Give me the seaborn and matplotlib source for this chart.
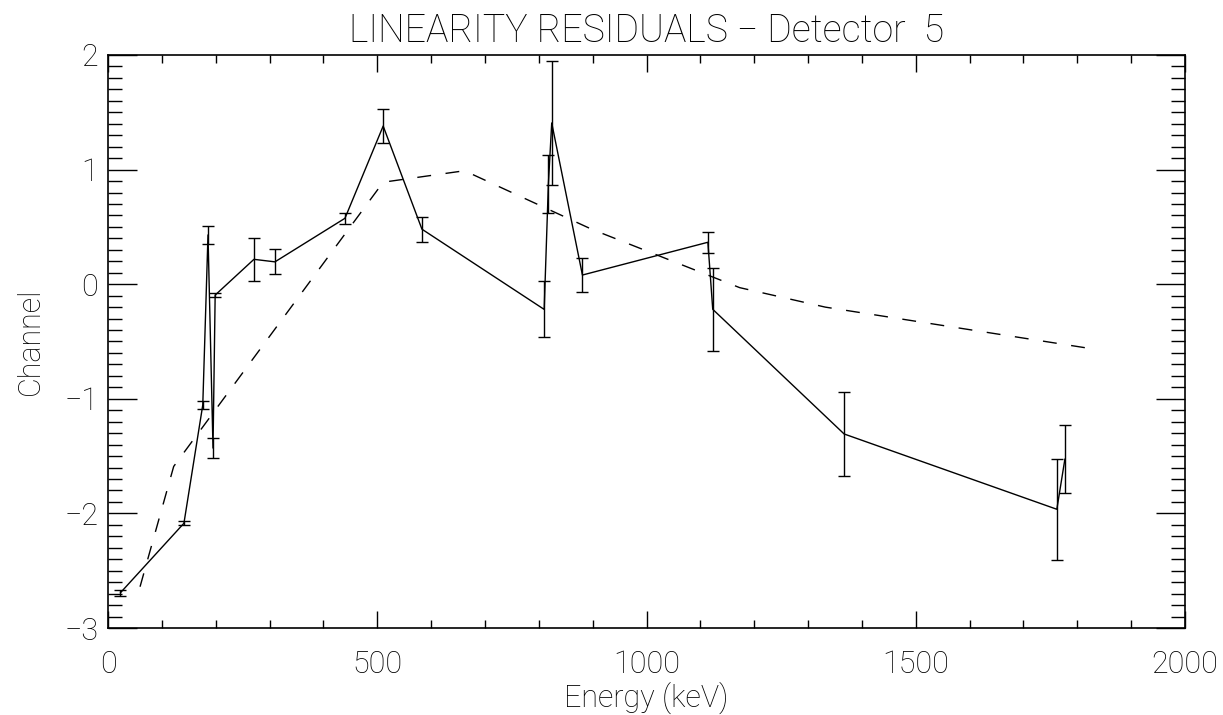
import matplotlib
matplotlib.use("Agg")
import matplotlib.pyplot as plt
from matplotlib.ticker import MultipleLocator
import seaborn as sns
import pandas as pd

# Measured residuals per calibration line
energy_kev = [23, 141, 176, 185.7, 195, 199, 271, 310, 440, 511, 583,
              810, 817.8, 824, 881, 1114, 1123, 1367, 1762, 1777]
residual = [-2.693, -2.086, -1.054, 0.43, -1.43, -0.095, 0.217, 0.195, 0.575, 1.38, 0.48,
            -0.22, 0.875, 1.407, 0.08, 0.366, -0.219, -1.307, -1.964, -1.525]
residual_err = [0.025, 0.016, 0.035, 0.08, 0.085, 0.015, 0.19, 0.11, 0.05, 0.15, 0.11,
                0.245, 0.255, 0.54, 0.147, 0.09, 0.36, 0.37, 0.44, 0.3]

# Fitted curve
fit_energy = [59.5, 122, 511, 662, 898, 1173, 1332, 1836]
fit_value = [-2.64, -1.59, 0.89, 0.99, 0.48, -0.03, -0.20, -0.57]

title = "LINEARITY RESIDUALS \u2212 Detector  5"
xlabel = "Energy (keV)"
ylabel = "Channel"

sns.set_style("ticks")
plt.rcParams["font.family"] = ["Roboto", "DejaVu Sans"]
plt.rcParams["font.weight"] = "light"
plt.rcParams["axes.titleweight"] = "light"
plt.rcParams["axes.labelweight"] = "light"
plt.rcParams["text.color"] = "black"
plt.rcParams["axes.labelcolor"] = "black"
plt.rcParams["xtick.color"] = "black"
plt.rcParams["ytick.color"] = "black"
plt.rcParams["axes.unicode_minus"] = True

fig = plt.figure(figsize=(12.23, 7.15), dpi=100)
ax = fig.add_axes([108 / 1223, 1 - 628 / 715, (1185 - 108) / 1223, (628 - 55) / 715])

meas = pd.DataFrame({"energy": energy_kev, "residual": residual})
fit = pd.DataFrame({"energy": fit_energy, "value": fit_value})

sns.lineplot(data=meas, x="energy", y="residual", ax=ax, color="black",
             linewidth=1.0, sort=False, estimator=None)
sns.lineplot(data=fit, x="energy", y="value", ax=ax, color="black",
             linewidth=1.0, sort=False, estimator=None, dashes=False,
             linestyle=(0, (10, 10.5)))
ax.errorbar(energy_kev, residual, yerr=residual_err, fmt="none", ecolor="black",
            elinewidth=1.0, capsize=4, capthick=1.0)

ax.set_xlim(0, 2000)
ax.set_ylim(-3, 2)
ax.xaxis.set_major_locator(MultipleLocator(500))
ax.xaxis.set_minor_locator(MultipleLocator(100))
ax.yaxis.set_major_locator(MultipleLocator(1))
ax.yaxis.set_minor_locator(MultipleLocator(0.1))

ax.tick_params(which="both", direction="in", top=True, right=True,
               color="black", width=1.0)
ax.tick_params(axis="x", which="major", length=12, labelsize=22, pad=16)
ax.tick_params(axis="x", which="minor", length=6)
ax.tick_params(axis="y", which="major", length=21, labelsize=22, pad=7)
ax.tick_params(axis="y", which="minor", length=10)
for sp in ax.spines.values():
    sp.set_visible(True)
    sp.set_linewidth(1.2)
    sp.set_color("black")

ax.set_xlabel(xlabel, fontsize=22, labelpad=2, fontweight="light")
ax.set_ylabel(ylabel, fontsize=22, labelpad=14, fontweight="light")
ax.set_title(title, fontsize=27, pad=9, fontweight="light")

fig.savefig("out.png", dpi=100, facecolor="white")
